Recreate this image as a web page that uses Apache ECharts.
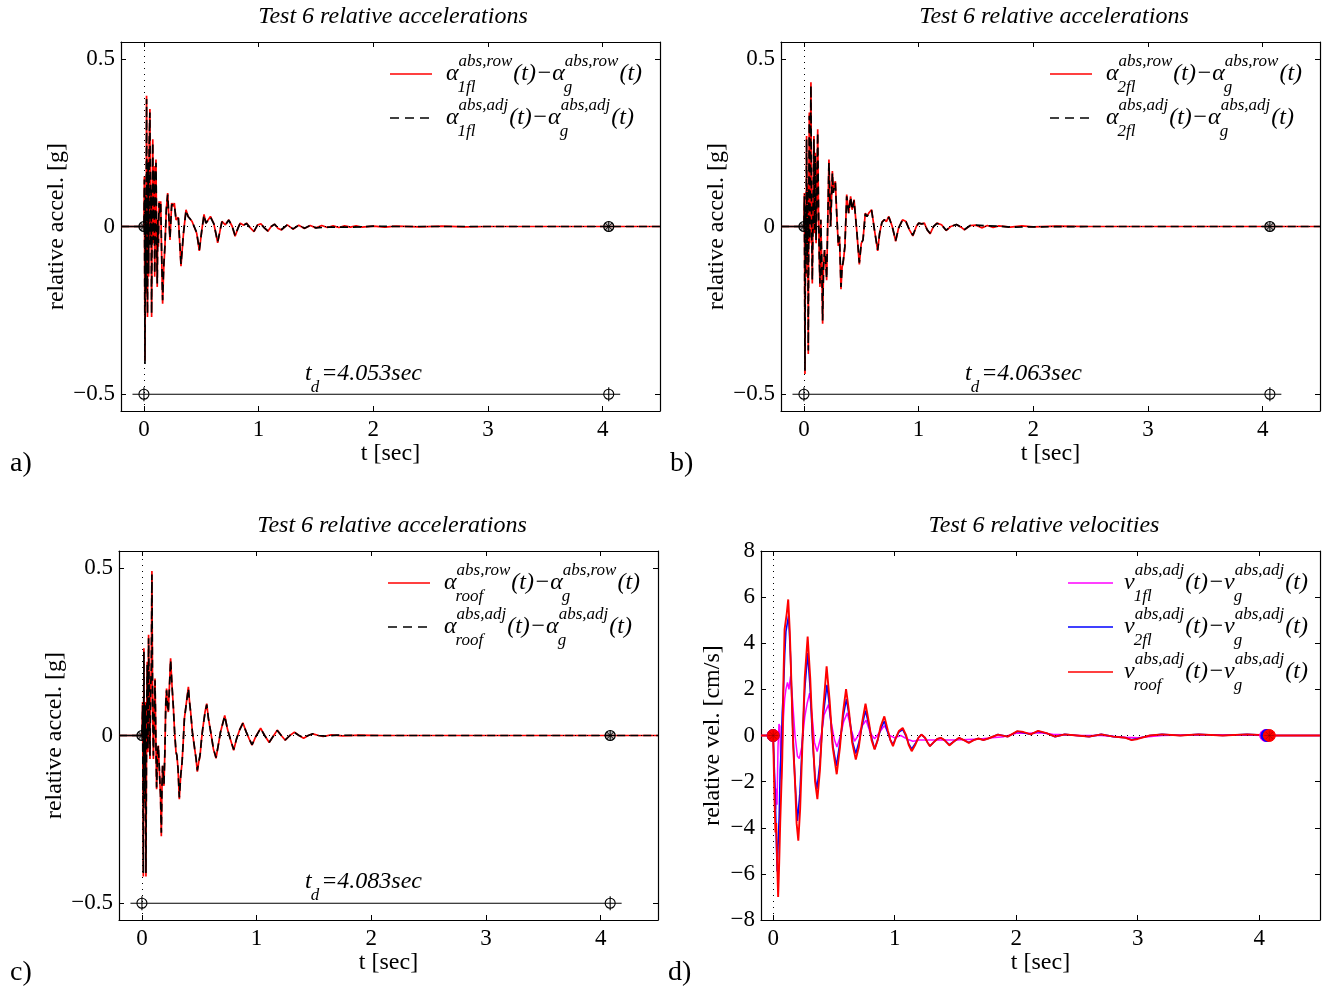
<!DOCTYPE html>
<html><head><meta charset="utf-8">
<script src="https://cdn.jsdelivr.net/npm/echarts@6/dist/echarts.min.js"></script>
<style>html,body{margin:0;padding:0;background:#fff}#c{width:1329px;height:989px}</style>
</head><body><div id="c"></div>
<script>
// ---------------- DATA ----------------
const xTicks = [0, 1, 2, 3, 4];
const accTicks = [-0.5, 0, 0.5];
const titlesTxt = ['Test 6 relative accelerations', 'Test 6 relative accelerations', 'Test 6 relative accelerations', 'Test 6 relative velocities'];
const panelTags = ['a)', 'b)', 'c)', 'd)'];
const tdValues = ['4.053', '4.063', '4.083'];

// (a) 1st floor relative accelerations [t, g]
const aRow = [[-0.2,0],[0,0],[0.004,0.15],[0.009,-0.40],[0.014,0.10],[0.018,-0.20],[0.023,0.39],[0.027,-0.10],[0.031,-0.27],[0.036,0.20],[0.041,-0.15],[0.046,0.25],[0.052,0.35],[0.057,-0.05],[0.062,0.10],[0.067,-0.27],[0.072,0.10],[0.077,0.26],[0.082,-0.05],[0.088,0.18],[0.094,-0.15],[0.100,0.05],[0.105,0.20],[0.110,0.00],[0.116,-0.18],[0.121,0.02],[0.126,-0.06],[0.132,0.075],[0.138,0.04],[0.146,0.075],[0.155,-0.10],[0.163,-0.23],[0.172,-0.13],[0.183,-0.06],[0.195,0.05],[0.207,0.10],[0.217,0.03],[0.227,-0.04],[0.242,0.07],[0.255,0.06],[0.265,0.07],[0.280,0.02],[0.300,0.027],[0.323,-0.118],[0.345,-0.02],[0.367,0.05],[0.385,0.03],[0.400,0.025],[0.420,0.015],[0.435,0.02],[0.460,-0.02],[0.483,-0.073],[0.505,-0.01],[0.524,0.036],[0.540,0.01],[0.555,0.012],[0.580,0.03],[0.610,0.008],[0.643,-0.049],[0.665,-0.01],[0.680,0.015],[0.710,0.005],[0.740,0.02],[0.770,0.0],[0.795,-0.029],[0.820,-0.005],[0.840,0.01],[0.870,0.004],[0.895,0.01],[0.930,-0.005],[0.960,-0.015],[0.990,0.004],[1.020,0.008],[1.050,-0.004],[1.080,-0.014],[1.110,0.0],[1.140,0.007],[1.170,-0.006],[1.200,-0.010],[1.250,0.005],[1.300,-0.008],[1.350,0.004],[1.400,-0.006],[1.450,0.003],[1.500,-0.004],[1.550,0.003],[1.600,-0.003],[1.650,0.002],[1.700,-0.003],[1.750,0.002],[1.800,-0.002],[1.850,0.002],[1.900,-0.002],[2.000,0.001],[2.100,-0.002],[2.200,0.001],[2.400,-0.001],[2.600,0.001],[2.800,-0.001],[3.000,0.0],[3.500,0.0],[4.000,0.0],[4.500,0.0]];
const aAdj = [[-0.2,0],[0,0],[0.004,0.14],[0.009,-0.41],[0.014,0.09],[0.018,-0.19],[0.023,0.38],[0.027,-0.11],[0.031,-0.26],[0.036,0.19],[0.041,-0.14],[0.046,0.24],[0.052,0.34],[0.057,-0.06],[0.062,0.11],[0.067,-0.26],[0.072,0.09],[0.077,0.25],[0.082,-0.04],[0.088,0.17],[0.094,-0.14],[0.100,0.06],[0.105,0.19],[0.110,0.01],[0.116,-0.17],[0.121,0.02],[0.126,-0.05],[0.132,0.07],[0.138,0.04],[0.146,0.07],[0.155,-0.09],[0.163,-0.22],[0.172,-0.12],[0.183,-0.06],[0.195,0.05],[0.207,0.095],[0.217,0.03],[0.227,-0.035],[0.242,0.065],[0.255,0.06],[0.265,0.065],[0.280,0.02],[0.300,0.025],[0.323,-0.112],[0.345,-0.02],[0.367,0.048],[0.385,0.03],[0.400,0.024],[0.420,0.015],[0.435,0.02],[0.460,-0.018],[0.483,-0.07],[0.505,-0.01],[0.524,0.034],[0.540,0.01],[0.555,0.012],[0.580,0.028],[0.610,0.008],[0.643,-0.046],[0.665,-0.01],[0.680,0.014],[0.710,0.005],[0.740,0.019],[0.770,0.0],[0.795,-0.027],[0.820,-0.005],[0.840,0.01],[0.870,0.004],[0.895,0.009],[0.930,-0.005],[0.960,-0.014],[0.990,0.004],[1.020,0.007],[1.050,-0.004],[1.080,-0.013],[1.110,0.0],[1.140,0.007],[1.170,-0.006],[1.200,-0.009],[1.250,0.005],[1.300,-0.007],[1.350,0.004],[1.400,-0.005],[1.450,0.003],[1.500,-0.004],[1.600,-0.002],[1.700,-0.002],[1.800,-0.002],[1.900,-0.001],[2.000,0.001],[2.200,0.0],[2.600,0.0],[3.000,0.0],[3.500,0.0],[4.000,0.0],[4.500,0.0]];

// (b) 2nd floor relative accelerations [t, g]
const bRow = [[-0.2,0],[0,0],[0.004,0.10],[0.009,-0.44],[0.014,0.05],[0.018,-0.15],[0.023,0.27],[0.028,-0.10],[0.033,0.12],[0.038,-0.38],[0.042,0.05],[0.047,0.34],[0.051,-0.05],[0.056,0.20],[0.061,0.43],[0.066,0.05],[0.073,-0.17],[0.080,0.05],[0.087,0.27],[0.093,-0.02],[0.099,0.22],[0.106,-0.05],[0.113,0.10],[0.120,0.29],[0.127,0.05],[0.134,-0.10],[0.140,-0.18],[0.147,0.02],[0.155,-0.10],[0.163,-0.29],[0.171,-0.12],[0.180,-0.07],[0.189,-0.10],[0.198,-0.16],[0.208,0.02],[0.218,0.20],[0.225,0.10],[0.233,0.00],[0.240,0.08],[0.248,0.165],[0.256,0.10],[0.262,0.12],[0.274,0.135],[0.287,0.03],[0.300,-0.058],[0.310,-0.03],[0.323,-0.187],[0.333,-0.12],[0.342,-0.11],[0.357,-0.06],[0.373,0.095],[0.390,0.04],[0.407,0.09],[0.420,0.05],[0.437,0.08],[0.460,-0.01],[0.483,-0.113],[0.500,-0.05],[0.515,-0.04],[0.535,0.04],[0.550,0.03],[0.565,0.04],[0.590,0.05],[0.615,-0.01],[0.643,-0.073],[0.660,-0.02],[0.680,0.013],[0.700,0.02],[0.720,0.015],[0.740,0.03],[0.770,0.00],[0.800,-0.044],[0.825,-0.005],[0.860,0.02],[0.890,0.015],[0.920,-0.01],[0.950,-0.028],[0.980,0.0],[1.000,0.01],[1.025,0.008],[1.050,0.01],[1.075,-0.01],[1.100,-0.022],[1.130,0.0],[1.160,0.01],[1.200,0.005],[1.240,-0.012],[1.280,0.0],[1.330,0.006],[1.370,-0.002],[1.400,-0.01],[1.450,0.003],[1.500,0.004],[1.550,-0.004],[1.600,0.003],[1.650,-0.003],[1.700,0.002],[1.800,-0.002],[1.900,0.002],[2.000,-0.001],[2.200,0.001],[2.500,0.0],[3.000,0.0],[3.500,0.0],[4.000,0.0],[4.500,0.0]];
const bAdj = [[-0.2,0],[0,0],[0.004,0.09],[0.009,-0.43],[0.014,0.06],[0.018,-0.14],[0.023,0.26],[0.028,-0.09],[0.033,0.11],[0.038,-0.37],[0.042,0.06],[0.047,0.33],[0.051,-0.04],[0.056,0.19],[0.061,0.42],[0.066,0.06],[0.073,-0.16],[0.080,0.05],[0.087,0.26],[0.093,-0.01],[0.099,0.21],[0.106,-0.04],[0.113,0.10],[0.120,0.28],[0.127,0.05],[0.134,-0.09],[0.140,-0.17],[0.147,0.02],[0.155,-0.09],[0.163,-0.28],[0.171,-0.12],[0.180,-0.07],[0.189,-0.10],[0.198,-0.155],[0.208,0.02],[0.218,0.19],[0.225,0.10],[0.233,0.00],[0.240,0.08],[0.248,0.16],[0.256,0.10],[0.262,0.115],[0.274,0.13],[0.287,0.03],[0.300,-0.055],[0.310,-0.03],[0.323,-0.18],[0.333,-0.12],[0.342,-0.105],[0.357,-0.06],[0.373,0.09],[0.390,0.04],[0.407,0.088],[0.420,0.05],[0.437,0.078],[0.460,-0.01],[0.483,-0.108],[0.500,-0.05],[0.515,-0.04],[0.535,0.038],[0.550,0.03],[0.565,0.038],[0.590,0.048],[0.615,-0.01],[0.643,-0.07],[0.660,-0.02],[0.680,0.012],[0.700,0.02],[0.720,0.015],[0.740,0.028],[0.770,0.00],[0.800,-0.042],[0.825,-0.005],[0.860,0.02],[0.890,0.014],[0.920,-0.01],[0.950,-0.026],[0.980,0.0],[1.000,0.01],[1.025,0.008],[1.050,0.009],[1.075,-0.01],[1.100,-0.02],[1.130,0.0],[1.160,0.009],[1.200,0.005],[1.240,-0.011],[1.280,0.0],[1.330,0.006],[1.370,-0.002],[1.400,-0.009],[1.450,0.003],[1.500,0.004],[1.600,0.002],[1.700,0.001],[1.800,-0.002],[2.000,-0.001],[2.500,0.0],[3.000,0.0],[3.500,0.0],[4.000,0.0],[4.500,0.0]];

// (c) roof relative accelerations [t, g]
const cRow = [[-0.2,0],[0,0],[0.006,0.10],[0.012,-0.42],[0.017,0.26],[0.022,-0.20],[0.028,0.10],[0.035,-0.42],[0.041,0.05],[0.046,0.22],[0.052,-0.05],[0.058,0.30],[0.064,0.08],[0.070,-0.07],[0.076,0.15],[0.082,0.20],[0.087,0.49],[0.093,0.10],[0.100,-0.07],[0.107,0.05],[0.114,0.17],[0.121,0.0],[0.128,-0.16],[0.136,-0.05],[0.143,-0.03],[0.155,-0.13],[0.162,-0.18],[0.169,-0.30],[0.175,-0.15],[0.180,-0.09],[0.186,-0.12],[0.192,-0.15],[0.200,-0.05],[0.208,0.10],[0.215,0.14],[0.222,0.09],[0.230,0.07],[0.240,0.15],[0.250,0.23],[0.262,0.15],[0.274,0.085],[0.285,0.01],[0.297,-0.05],[0.305,-0.06],[0.315,-0.10],[0.326,-0.19],[0.338,-0.12],[0.350,-0.08],[0.360,-0.02],[0.370,0.05],[0.380,0.05],[0.392,0.11],[0.405,0.145],[0.415,0.10],[0.425,0.07],[0.440,0.01],[0.460,-0.04],[0.472,-0.07],[0.483,-0.108],[0.495,-0.08],[0.507,-0.06],[0.520,-0.01],[0.530,0.02],[0.550,0.07],[0.565,0.095],[0.580,0.05],[0.600,0.01],[0.623,-0.04],[0.646,-0.068],[0.665,-0.03],[0.685,0.01],[0.700,0.03],[0.722,0.06],[0.745,0.02],[0.770,-0.01],[0.800,-0.044],[0.825,-0.01],[0.850,0.015],[0.880,0.038],[0.910,0.01],[0.935,-0.01],[0.960,-0.029],[0.990,-0.005],[1.035,0.022],[1.070,0.0],[1.110,-0.021],[1.145,-0.002],[1.180,0.016],[1.215,0.0],[1.250,-0.014],[1.290,0.0],[1.330,0.01],[1.370,0.0],[1.410,-0.008],[1.450,0.0],[1.490,0.005],[1.540,0.0],[1.580,-0.003],[1.650,0.002],[1.750,-0.001],[1.900,0.001],[2.100,0.0],[2.500,0.0],[3.000,0.0],[3.500,0.0],[4.000,0.0],[4.500,0.0]];
const cAdj = [[-0.2,0],[0,0],[0.006,0.09],[0.012,-0.41],[0.017,0.25],[0.022,-0.19],[0.028,0.09],[0.035,-0.41],[0.041,0.05],[0.046,0.21],[0.052,-0.04],[0.058,0.29],[0.064,0.08],[0.070,-0.06],[0.076,0.14],[0.082,0.20],[0.087,0.48],[0.093,0.10],[0.100,-0.06],[0.107,0.05],[0.114,0.165],[0.121,0.0],[0.128,-0.155],[0.136,-0.05],[0.143,-0.03],[0.155,-0.125],[0.162,-0.175],[0.169,-0.29],[0.175,-0.15],[0.180,-0.09],[0.186,-0.12],[0.192,-0.145],[0.200,-0.05],[0.208,0.095],[0.215,0.135],[0.222,0.09],[0.230,0.07],[0.240,0.145],[0.250,0.225],[0.262,0.15],[0.274,0.083],[0.285,0.01],[0.297,-0.048],[0.305,-0.06],[0.315,-0.10],[0.326,-0.185],[0.338,-0.12],[0.350,-0.08],[0.360,-0.02],[0.370,0.048],[0.380,0.05],[0.392,0.108],[0.405,0.14],[0.415,0.10],[0.425,0.068],[0.440,0.01],[0.460,-0.04],[0.472,-0.068],[0.483,-0.104],[0.495,-0.08],[0.507,-0.058],[0.520,-0.01],[0.530,0.02],[0.550,0.068],[0.565,0.092],[0.580,0.05],[0.600,0.01],[0.623,-0.038],[0.646,-0.066],[0.665,-0.03],[0.685,0.01],[0.700,0.03],[0.722,0.058],[0.745,0.02],[0.770,-0.01],[0.800,-0.042],[0.825,-0.01],[0.850,0.015],[0.880,0.036],[0.910,0.01],[0.935,-0.01],[0.960,-0.027],[0.990,-0.005],[1.035,0.021],[1.070,0.0],[1.110,-0.02],[1.145,-0.002],[1.180,0.015],[1.215,0.0],[1.250,-0.013],[1.290,0.0],[1.330,0.009],[1.370,0.0],[1.410,-0.007],[1.450,0.0],[1.490,0.005],[1.540,0.0],[1.600,-0.002],[1.700,0.001],[1.900,0.0],[2.500,0.0],[3.000,0.0],[3.500,0.0],[4.000,0.0],[4.500,0.0]];

// (d) relative velocities [t, cm/s]
const v1fl = [[-0.1,0],[0,0],[0.008,-1.5],[0.014,-2.0],[0.020,-3.2],[0.026,-2.3],[0.032,-3.0],[0.040,-0.5],[0.048,0.5],[0.055,0.4],[0.062,-1.0],[0.068,-1.9],[0.075,-0.6],[0.085,0.8],[0.095,1.6],[0.105,2.0],[0.118,2.3],[0.130,2.0],[0.143,2.56],[0.160,1.5],[0.180,0.0],[0.200,-0.9],[0.215,-1.0],[0.235,-0.5],[0.260,0.8],[0.280,1.4],[0.300,1.84],[0.320,0.9],[0.340,-0.3],[0.362,-0.7],[0.395,0.0],[0.420,0.9],[0.455,1.34],[0.480,0.5],[0.505,-0.2],[0.525,-0.5],[0.555,0.0],[0.580,0.6],[0.610,0.98],[0.640,0.3],[0.670,-0.25],[0.700,0.0],[0.730,0.4],[0.765,0.66],[0.800,0.1],[0.835,-0.14],[0.870,0.1],[0.915,0.43],[0.960,0.0],[1.000,-0.1],[1.050,0.0],[1.100,-0.15],[1.150,-0.25],[1.200,-0.2],[1.250,-0.2],[1.300,-0.2],[1.400,-0.2],[1.500,-0.2],[1.600,-0.17],[1.700,-0.15],[1.800,-0.1],[1.900,-0.05],[2.000,0.1],[2.100,0.1],[2.200,0.12],[2.300,0.05],[2.400,0.03],[2.500,0.0],[2.700,0.0],[2.900,-0.08],[3.000,-0.1],[3.200,0.0],[3.500,0.03],[3.800,0.02],[4.100,0.0],[4.500,0.0]];
const v2fl = [[-0.1,0],[0,0],[0.010,-1.5],[0.019,-3.0],[0.026,-4.5],[0.033,-5.9],[0.040,-4.8],[0.050,-3.5],[0.058,-1.5],[0.066,-0.6],[0.075,1.0],[0.085,2.0],[0.095,3.5],[0.105,4.5],[0.127,5.2],[0.143,3.4],[0.160,0.5],[0.180,-2.0],[0.200,-3.7],[0.220,-2.5],[0.240,-0.3],[0.260,2.0],[0.284,3.57],[0.305,2.0],[0.325,-0.3],[0.345,-1.8],[0.360,-2.33],[0.385,-1.2],[0.410,0.8],[0.443,2.2],[0.465,1.2],[0.490,-0.4],[0.520,-1.32],[0.550,-0.3],[0.575,0.8],[0.603,1.58],[0.630,0.7],[0.655,-0.3],[0.680,-0.78],[0.710,-0.2],[0.735,0.5],[0.760,1.08],[0.790,0.4],[0.810,-0.1],[0.835,-0.58],[0.860,-0.2],[0.885,0.3],[0.915,0.62],[0.945,0.1],[0.965,-0.2],[0.986,-0.39],[1.010,-0.1],[1.035,0.15],[1.066,0.26],[1.095,-0.05],[1.115,-0.35],[1.140,-0.58],[1.170,-0.35],[1.195,-0.1],[1.220,0.04],[1.250,-0.1],[1.270,-0.3],[1.290,-0.46],[1.320,-0.3],[1.350,-0.15],[1.380,-0.1],[1.410,-0.2],[1.450,-0.4],[1.490,-0.25],[1.530,-0.1],[1.570,-0.2],[1.610,-0.3],[1.650,-0.2],[1.690,-0.13],[1.730,-0.2],[1.770,-0.13],[1.850,0.04],[1.930,-0.05],[2.010,0.17],[2.060,0.12],[2.120,0.05],[2.180,0.18],[2.250,0.1],[2.320,-0.05],[2.400,0.05],[2.500,0.0],[2.600,-0.05],[2.700,0.05],[2.800,-0.05],[2.900,-0.1],[2.950,-0.18],[3.000,-0.13],[3.100,0.0],[3.200,0.05],[3.350,0.0],[3.500,0.05],[3.700,0.0],[3.900,0.05],[4.100,0.0],[4.300,0.0],[4.500,0.0]];
const vRoof = [[-0.1,0],[0,0],[0.010,-2.5],[0.019,-4.2],[0.025,-3.8],[0.033,-5.5],[0.041,-7.0],[0.050,-5.5],[0.058,-3.8],[0.066,-3.8],[0.075,-1.0],[0.085,2.5],[0.094,4.6],[0.102,4.6],[0.112,5.3],[0.124,5.9],[0.137,4.5],[0.150,2.3],[0.165,-0.5],[0.180,-2.0],[0.193,-3.8],[0.207,-4.56],[0.222,-3.2],[0.240,-0.5],[0.260,2.5],[0.284,4.29],[0.305,2.5],[0.325,0.0],[0.345,-2.0],[0.364,-2.76],[0.385,-1.5],[0.410,1.0],[0.440,3.0],[0.465,1.5],[0.490,-0.5],[0.523,-1.68],[0.550,-0.5],[0.575,1.0],[0.600,2.01],[0.625,1.0],[0.650,-0.3],[0.680,-1.04],[0.705,-0.5],[0.730,0.5],[0.760,1.38],[0.790,0.5],[0.810,-0.2],[0.835,-0.6],[0.860,-0.2],[0.885,0.4],[0.915,0.83],[0.945,0.2],[0.965,-0.2],[0.986,-0.46],[1.010,-0.1],[1.035,0.2],[1.066,0.33],[1.095,0.0],[1.115,-0.4],[1.140,-0.68],[1.170,-0.4],[1.195,-0.1],[1.220,0.04],[1.250,-0.1],[1.270,-0.3],[1.290,-0.46],[1.320,-0.3],[1.350,-0.15],[1.380,-0.1],[1.410,-0.2],[1.450,-0.43],[1.490,-0.25],[1.530,-0.1],[1.570,-0.2],[1.610,-0.32],[1.650,-0.2],[1.690,-0.13],[1.730,-0.2],[1.770,-0.13],[1.850,0.04],[1.930,-0.05],[2.010,0.19],[2.060,0.15],[2.120,0.05],[2.180,0.2],[2.250,0.1],[2.320,-0.05],[2.400,0.05],[2.500,0.0],[2.600,-0.05],[2.700,0.05],[2.800,-0.05],[2.900,-0.1],[2.950,-0.2],[3.000,-0.15],[3.100,0.0],[3.200,0.05],[3.350,0.0],[3.500,0.05],[3.700,0.0],[3.900,0.05],[4.100,0.0],[4.300,0.0],[4.500,0.0]];

// reference marks (data coordinates)
const preZero = [[-0.2,0],[0,0]];
const zeroMarkA = [[0,0],[4.053,0]], tdMarkA = [[0,-0.5],[4.053,-0.5]], tdBarA = [[-0.1,-0.5],[4.153,-0.5]];
const zeroMarkB = [[0,0],[4.063,0]], tdMarkB = [[0,-0.5],[4.063,-0.5]], tdBarB = [[-0.1,-0.5],[4.163,-0.5]];
const zeroMarkC = [[0,0],[4.083,0]], tdMarkC = [[0,-0.5],[4.083,-0.5]], tdBarC = [[-0.1,-0.5],[4.183,-0.5]];
const velMark1fl = [[0,0],[4.053,0]], velMark2fl = [[0,0],[4.063,0]], velMarkRoof = [[0,0],[4.083,0]];

// ---------------- STYLE / LAYOUT ----------------
const FAM = '"Liberation Serif","DejaVu Serif",serif';
const MAIN_FONT = 'italic 24px "Liberation Serif"';
const SUB_FONT = 'italic 17px "Liberation Serif"';
const RED = '#ff0000', BLUE = '#0000ff', MAG = '#ff00ff';

const grids = [
  {left:121, top:42, width:539, height:369},
  {left:781, top:42, width:539, height:369},
  {left:119, top:551, width:539, height:369},
  {left:761, top:551, width:559, height:369}
];
const xMin = [-0.2, -0.2, -0.2, -0.1];
const yNames = ['relative accel. [g]', 'relative accel. [g]', 'relative accel. [g]', 'relative vel. [cm/s]'];

const fmt = v => String(v).replace('-', '\u2212');

const xAxes = [], yAxes = [];
grids.forEach((g, i) => {
  const isD = i === 3;
  const common = {type:'value', gridIndex:i, axisLine:{show:true, onZero:false, lineStyle:{color:'#000', width:1.2}},
    splitLine:{show:false}, axisTick:{show:true, inside:true, length:5, lineStyle:{color:'#000'}}};
  xAxes.push(Object.assign({}, common, {position:'bottom', min:xMin[i], max:4.5,
    axisTick:Object.assign({}, common.axisTick, {customValues:xTicks}),
    axisLabel:{customValues:xTicks, formatter:fmt, color:'#000', fontFamily:FAM, fontSize:23, margin:7},
    name:'t [sec]', nameLocation:'middle', nameGap:31, nameTextStyle:{color:'#000', fontFamily:FAM, fontSize:24}}));
  xAxes.push(Object.assign({}, common, {position:'top', min:xMin[i], max:4.5,
    axisTick:Object.assign({}, common.axisTick, {customValues:xTicks}), axisLabel:{show:false}}));
  const yTickOpt = isD ? {} : {customValues:accTicks};
  const yRange = isD ? {min:-8, max:8, interval:2} : {min:-0.55, max:0.55};
  yAxes.push(Object.assign({}, common, yRange, {position:'left',
    axisTick:Object.assign({}, common.axisTick, yTickOpt),
    axisLabel:Object.assign({formatter:fmt, color:'#000', fontFamily:FAM, fontSize:23, margin:6}, yTickOpt),
    name:yNames[i], nameLocation:'middle', nameRotate:90, nameGap:isD ? 36 : 52,
    nameTextStyle:{color:'#000', fontFamily:FAM, fontSize:24}}));
  yAxes.push(Object.assign({}, common, yRange, {position:'right',
    axisTick:Object.assign({}, common.axisTick, yTickOpt), axisLabel:{show:false}}));
});

function lineS(gi, data, color, width, type, z) {
  return {type:'line', xAxisIndex:2*gi, yAxisIndex:2*gi, data, showSymbol:false, symbol:'none',
    lineStyle:{color, width, type}, z, silent:true, animation:false};
}
function guideS(gi) {
  return {type:'line', xAxisIndex:2*gi, yAxisIndex:2*gi, data:[], z:1, silent:true,
    markLine:{silent:true, symbol:['none','none'], label:{show:false}, animation:false,
      lineStyle:{type:[1,5], color:'#000', width:1}, data:[{xAxis:0},{yAxis:0}]}};
}
function markS(gi, data, kind, color) {
  return {type:'custom', coordinateSystem:'cartesian2d', xAxisIndex:2*gi, yAxisIndex:2*gi, data, z:20, silent:true, animation:false,
    renderItem(params, api) {
      const p = api.coord([api.value(0), api.value(1)]);
      const x = p[0], y = p[1];
      const ln = (x1, y1, x2, y2, c, w) => ({type:'line', shape:{x1, y1, x2, y2}, style:{stroke:c, lineWidth:w}});
      if (kind === 'zero') {
        return {type:'group', children:[
          {type:'circle', shape:{cx:x, cy:y, r:5}, style:{fill:'rgba(0,0,0,0.25)', stroke:'#000', lineWidth:1.2}},
          ln(x-5, y, x+5, y, '#000', 1), ln(x, y-5, x, y+5, '#000', 1),
          ln(x-3.5, y-3.5, x+3.5, y+3.5, '#000', 1), ln(x-3.5, y+3.5, x+3.5, y-3.5, '#000', 1)]};
      }
      if (kind === 'td') {
        return {type:'group', children:[
          {type:'circle', shape:{cx:x, cy:y, r:5}, style:{fill:'rgba(0,0,0,0)', stroke:'#000', lineWidth:1.1}},
          ln(x, y-7, x, y+7, '#000', 1.1)]};
      }
      return {type:'group', children:[
        {type:'circle', shape:{cx:x, cy:y, r:6}, style:{fill:color, stroke:color, lineWidth:1}},
        ln(x-5, y, x+5, y, 'rgba(120,0,0,0.5)', 0.8), ln(x, y-5, x, y+5, 'rgba(120,0,0,0.5)', 0.8),
        ln(x-3.5, y-3.5, x+3.5, y+3.5, 'rgba(120,0,0,0.5)', 0.8), ln(x-3.5, y+3.5, x+3.5, y-3.5, 'rgba(120,0,0,0.5)', 0.8)]};
    }};
}

const series = [];
[[aRow, aAdj, zeroMarkA, tdMarkA, tdBarA], [bRow, bAdj, zeroMarkB, tdMarkB, tdBarB], [cRow, cAdj, zeroMarkC, tdMarkC, tdBarC]]
  .forEach(([row, adj, zm, tm, bar], gi) => {
    series.push(guideS(gi));
    series.push(lineS(gi, row, RED, 1.7, 'solid', 3));
    series.push(lineS(gi, adj, '#000', 1.7, [8, 5], 4));
    series.push(lineS(gi, preZero, '#000', 1.4, 'solid', 5));
    series.push(lineS(gi, bar, '#000', 1.2, 'solid', 5));
    series.push(markS(gi, zm, 'zero'));
    series.push(markS(gi, tm, 'td'));
  });
series.push(guideS(3));
series.push(lineS(3, v1fl, MAG, 1.5, 'solid', 3));
series.push(lineS(3, v2fl, BLUE, 1.6, 'solid', 4));
series.push(lineS(3, vRoof, RED, 1.9, 'solid', 5));
series.push(markS(3, velMark1fl, 'vel', MAG));
series.push(markS(3, velMark2fl, 'vel', BLUE));
series.push(markS(3, velMarkRoof, 'vel', RED));

// ---------------- TEXT (titles, legends, annotations) ----------------
const mctx = document.createElement('canvas').getContext('2d');
function tw(t, font) { mctx.font = font; return mctx.measureText(t).width; }
function txt(x, y, t, font, align) {
  return {type:'text', x, y, silent:true, z:50,
    style:{text:t, font, fill:'#000', textAlign:align || 'left', textVerticalAlign:'middle'}};
}
function mathText(x, y, parts, els) {
  let cx = x;
  parts.forEach(p => {
    if (p.t !== undefined) { els.push(txt(cx, y, p.t, MAIN_FONT)); cx += tw(p.t, MAIN_FONT); }
    else {
      let w = 0;
      if (p.sup) { els.push(txt(cx, y - 12, p.sup, SUB_FONT)); w = Math.max(w, tw(p.sup, SUB_FONT)); }
      if (p.sub) { els.push(txt(cx - 1, y + 14, p.sub, SUB_FONT)); w = Math.max(w, tw(p.sub, SUB_FONT)); }
      cx += w + 1;
    }
  });
}
const graphic = [];
const titlePos = [[393, 17], [1054, 17], [392, 526], [1044, 526]];
titlesTxt.forEach((t, i) => graphic.push(txt(titlePos[i][0], titlePos[i][1], t, MAIN_FONT, 'center')));
const tagPos = [[10, 464], [670, 464], [10, 973], [668, 973]];
panelTags.forEach((t, i) => graphic.push(txt(tagPos[i][0], tagPos[i][1], t, '28px "Liberation Serif"')));

function legendLine(x1, x2, y, color, dash, els) {
  els.push({type:'line', silent:true, z:50, shape:{x1, y1:y, x2, y2:y}, style:{stroke:color, lineWidth:1.4, lineDash:dash || null}});
}
const accLeg = [[390, 446, 74, 118, '1fl'], [1050, 1106, 74, 118, '2fl'], [388, 444, 583, 627, 'roof']];
accLeg.forEach(([lx, tx, y1, y2, sub]) => {
  legendLine(lx, lx + 42, y1, RED, null, graphic);
  mathText(tx, y1, [{t:'\u03b1'}, {sup:'abs,row', sub}, {t:'(t)\u2212\u03b1'}, {sup:'abs,row', sub:'g'}, {t:'(t)'}], graphic);
  legendLine(lx, lx + 42, y2, '#000', [9, 6], graphic);
  mathText(tx, y2, [{t:'\u03b1'}, {sup:'abs,adj', sub}, {t:'(t)\u2212\u03b1'}, {sup:'abs,adj', sub:'g'}, {t:'(t)'}], graphic);
});
[[583, MAG, '1fl'], [627, BLUE, '2fl'], [672, RED, 'roof']].forEach(([y, c, sub]) => {
  legendLine(1068, 1113, y, c, null, graphic);
  mathText(1124, y, [{t:'v'}, {sup:'abs,adj', sub}, {t:'(t)\u2212v'}, {sup:'abs,adj', sub:'g'}, {t:'(t)'}], graphic);
});
const tdPos = [[305, 374], [965, 374], [305, 882]];
tdValues.forEach((v, i) => mathText(tdPos[i][0], tdPos[i][1], [{t:'t'}, {sub:'d'}, {t:'=' + v + 'sec'}], graphic));

const chart = echarts.init(document.getElementById('c'), null, {renderer:'canvas'});
chart.setOption({animation:false, backgroundColor:'#fff', grid:grids, xAxis:xAxes, yAxis:yAxes, series, graphic});
</script></body></html>
